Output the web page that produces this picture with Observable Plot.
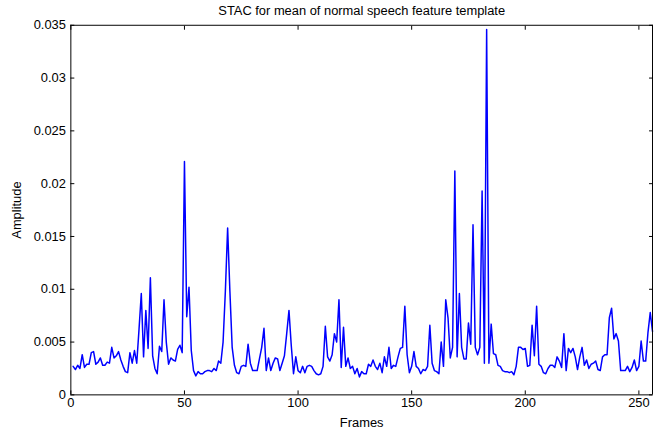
<!DOCTYPE html>
<html>
<head>
<meta charset="utf-8">
<script src="https://cdn.jsdelivr.net/npm/d3@7"></script>
<script src="https://cdn.jsdelivr.net/npm/@observablehq/plot@0.6"></script>
<style>
  html, body { margin: 0; padding: 0; background: #fff; overflow: hidden; width: 654px; height: 434px; }
  #chart svg { display: block; }
</style>
</head>
<body>
<div id="chart"></div>
<script>
const title = "STAC for mean of normal speech feature template";
const xLabel = "Frames";
const yLabel = "Amplitude";
const xDomain = [0, 256];
const yDomain = [0, 0.035];
const xTicks = [0, 50, 100, 150, 200, 250];
const yTicks = [0, 0.005, 0.01, 0.015, 0.02, 0.025, 0.03, 0.035];

// amplitude per frame, frames 1..256
const amplitude = [
  0.0027, 0.0024, 0.0028, 0.0025, 0.0038, 0.0026, 0.0029, 0.0029, 0.0040, 0.0041,
  0.0029, 0.0031, 0.0035, 0.0028, 0.0028, 0.0031, 0.0030, 0.0045, 0.0035, 0.0037,
  0.0041, 0.0033, 0.0027, 0.0022, 0.0021, 0.0040, 0.0030, 0.0042, 0.0030, 0.0062,
  0.0096, 0.0036, 0.0080, 0.0044, 0.0111, 0.0037, 0.0025, 0.0020, 0.0046, 0.0041,
  0.0090, 0.0050, 0.0029, 0.0035, 0.0033, 0.0032, 0.0043, 0.0047, 0.0040, 0.0221,
  0.0074, 0.0102, 0.0042, 0.0023, 0.0018, 0.0022, 0.0020, 0.0020, 0.0022, 0.0023,
  0.0023, 0.0022, 0.0025, 0.0023, 0.0032, 0.0030, 0.0050, 0.0098, 0.0158, 0.0098,
  0.0045, 0.0028, 0.0021, 0.0020, 0.0027, 0.0028, 0.0027, 0.0048, 0.0030, 0.0023,
  0.0023, 0.0023, 0.0034, 0.0045, 0.0063, 0.0023, 0.0035, 0.0023, 0.0030, 0.0035,
  0.0034, 0.0023, 0.0030, 0.0037, 0.0058, 0.0080, 0.0047, 0.0020, 0.0036, 0.0023,
  0.0021, 0.0027, 0.0021, 0.0027, 0.0028, 0.0027, 0.0023, 0.0020, 0.0019, 0.0020,
  0.0027, 0.0065, 0.0036, 0.0032, 0.0038, 0.0058, 0.0050, 0.0090, 0.0026, 0.0064,
  0.0027, 0.0035, 0.0025, 0.0027, 0.0020, 0.0025, 0.0017, 0.0022, 0.0020, 0.0020,
  0.0029, 0.0027, 0.0033, 0.0027, 0.0024, 0.0030, 0.0021, 0.0036, 0.0027, 0.0045,
  0.0025, 0.0028, 0.0027, 0.0036, 0.0044, 0.0045, 0.0084, 0.0038, 0.0021, 0.0027,
  0.0041, 0.0027, 0.0025, 0.0020, 0.0024, 0.0023, 0.0027, 0.0066, 0.0030, 0.0023,
  0.0022, 0.0020, 0.0050, 0.0027, 0.0090, 0.0073, 0.0035, 0.0045, 0.0212, 0.0036,
  0.0096, 0.0045, 0.0034, 0.0034, 0.0068, 0.0048, 0.0161, 0.0045, 0.0038, 0.0045,
  0.0193, 0.0030, 0.0346, 0.0030, 0.0067, 0.0039, 0.0038, 0.0028, 0.0027, 0.0023,
  0.0022, 0.0022, 0.0021, 0.0022, 0.0019, 0.0027, 0.0045, 0.0045, 0.0043, 0.0044,
  0.0027, 0.0028, 0.0066, 0.0037, 0.0084, 0.0029, 0.0027, 0.0021, 0.0020, 0.0025,
  0.0028, 0.0028, 0.0026, 0.0036, 0.0032, 0.0026, 0.0058, 0.0023, 0.0044, 0.0040,
  0.0044, 0.0036, 0.0024, 0.0036, 0.0045, 0.0028, 0.0033, 0.0025, 0.0029, 0.0030,
  0.0032, 0.0024, 0.0023, 0.0036, 0.0038, 0.0038, 0.0073, 0.0082, 0.0053, 0.0058,
  0.0051, 0.0023, 0.0023, 0.0023, 0.0027, 0.0022, 0.0026, 0.0033, 0.0023, 0.0027,
  0.0051, 0.0032, 0.0032, 0.0059, 0.0078, 0.0060
];
const frames = amplitude.map((_, i) => i + 1);
const data = amplitude.map((v, i) => ({frame: frames[i], amp: v}));

const fmt = d => String(d);

const chart = Plot.plot({
  width: 660,
  height: 434,
  marginLeft: 71,
  marginRight: 2,
  marginTop: 25,
  marginBottom: 36,
  style: {fontFamily: "'Liberation Sans', Arial, Helvetica, sans-serif", fontSize: "13px", color: "#000", background: "#fff"},
  x: {domain: xDomain, ticks: xTicks},
  y: {domain: yDomain, ticks: yTicks},
  marks: [
    Plot.line(data, {x: "frame", y: "amp", stroke: "#0000ff", strokeWidth: 1.5}),
    Plot.ruleX(xDomain, {stroke: "#000", strokeWidth: 1}),
    Plot.ruleY(yDomain, {stroke: "#000", strokeWidth: 1}),
    Plot.axisX(xTicks, {anchor: "bottom", tickSize: -4, tickPadding: 7, tickFormat: fmt, fontSize: 13,
      label: xLabel, labelAnchor: "center", labelOffset: 32, labelArrow: "none"}),
    Plot.axisX(xTicks, {anchor: "top", tickSize: -4, tickFormat: () => "", label: null}),
    Plot.axisY(yTicks, {anchor: "left", tickSize: -4, tickPadding: 9, tickFormat: fmt, fontSize: 13,
      label: yLabel, labelAnchor: "center", labelOffset: 60, labelArrow: "none"}),
    Plot.axisY(yTicks, {anchor: "right", tickSize: -4, tickFormat: () => "", label: null}),
    Plot.text([title], {frameAnchor: "top", dy: -20, fontSize: 13, fill: "#000"})
  ]
});
document.getElementById("chart").appendChild(chart);
</script>
</body>
</html>
